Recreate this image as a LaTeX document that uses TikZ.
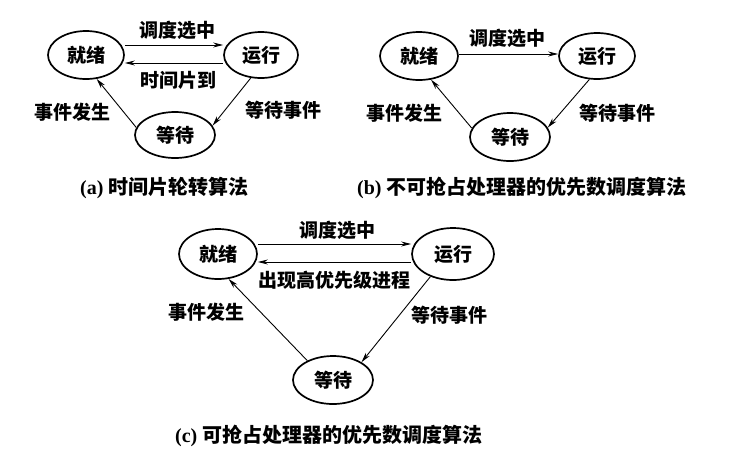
\documentclass[tikz,border=0pt]{standalone}
\usepackage{fontspec}
\setmainfont{Liberation Serif}
\newfontfamily\cjk{Noto Sans CJK SC}
\usetikzlibrary{shapes.geometric,arrows.meta}
\begin{document}
\begin{tikzpicture}[x=1pt,y=-1pt,
 st/.style={ellipse,draw,line width=1.7pt,inner sep=0pt,font=\cjk\bfseries\fontsize{19}{20}\selectfont},
 lbl/.style={font=\cjk\bfseries\fontsize{19}{20}\selectfont,inner sep=0pt},
 captxt/.style={font=\bfseries\fontsize{20}{22}\selectfont,inner sep=0pt,anchor=west},
 arr/.style={line width=0.9pt,-{Stealth[length=10pt,width=5pt]}}]
\path[use as bounding box, fill=white] (0,0) rectangle (743,464);

% (a)
\node[st,minimum width=76pt,minimum height=48pt] (A1) at (86,55) {就绪};
\node[st,minimum width=74pt,minimum height=46pt] (R1) at (261,55) {运行};
\node[st,minimum width=80pt,minimum height=46pt] (W1) at (175,135) {等待};
\draw[arr] ([yshift=10pt]A1.east) -- ([yshift=10pt]A1.east -| R1.west);
\draw[arr] ([yshift=-8pt]R1.west) -- ([yshift=-8pt]R1.west -| A1.east);
\draw[arr] (W1.169) -- (A1.294);
\draw[arr] (R1.246) -- (W1.14);
\node[lbl] (la1) at (177,30) {调度选中};
\node[lbl] (la2) at (178,80) {时间片到};
\node[lbl] (la3) at (72,112) {事件发生};
\node[lbl] (la4) at (283,110) {等待事件};
\node[captxt] (ca) at (80,188) {(a) {\cjk 时间片轮转算法}};

% (b)
\node[st,minimum width=78pt,minimum height=48pt] (A2) at (419,56) {就绪};
\node[st,minimum width=76pt,minimum height=46pt] (R2) at (597,56) {运行};
\node[st,minimum width=80pt,minimum height=48pt] (W2) at (510,137) {等待};
\draw[arr] ([yshift=2pt]A2.east) -- ([yshift=2pt]A2.east -| R2.west);
\draw[arr] (W2.167) -- (A2.297);
\draw[arr] (R2.252) -- (W2.14);
\node[lbl] (lb1) at (507,38) {调度选中};
\node[lbl] (lb3) at (404,113) {事件发生};
\node[lbl] (lb4) at (617,113) {等待事件};
\node[captxt] (cb) at (357,188) {(b) {\cjk 不可抢占处理器的优先数调度算法}};

% (c)
\node[st,minimum width=78pt,minimum height=50pt] (A3) at (218,254) {就绪};
\node[st,minimum width=82pt,minimum height=52pt] (R3) at (453,254) {运行};
\node[st,minimum width=80pt,minimum height=48pt] (W3) at (333,380) {等待};
\draw[arr] ([yshift=10pt]A3.east) -- ([yshift=10pt]A3.east -| R3.west);
\draw[arr] ([yshift=-8pt]R3.west) -- ([yshift=-8pt]R3.west -| A3.east);
\draw[arr] (W3.143) -- (A3.293);
\draw[arr] (R3.225) -- (W3.32);
\node[lbl] (lc1) at (337,230) {调度选中};
\node[lbl] (lc2) at (334,280) {出现高优先级进程};
\node[lbl] (lc3) at (206,312) {事件发生};
\node[lbl] (lc4) at (449,315) {等待事件};
\node[captxt] (cc) at (175,436) {(c) {\cjk 可抢占处理器的优先数调度算法}};
\end{tikzpicture}
\end{document}
